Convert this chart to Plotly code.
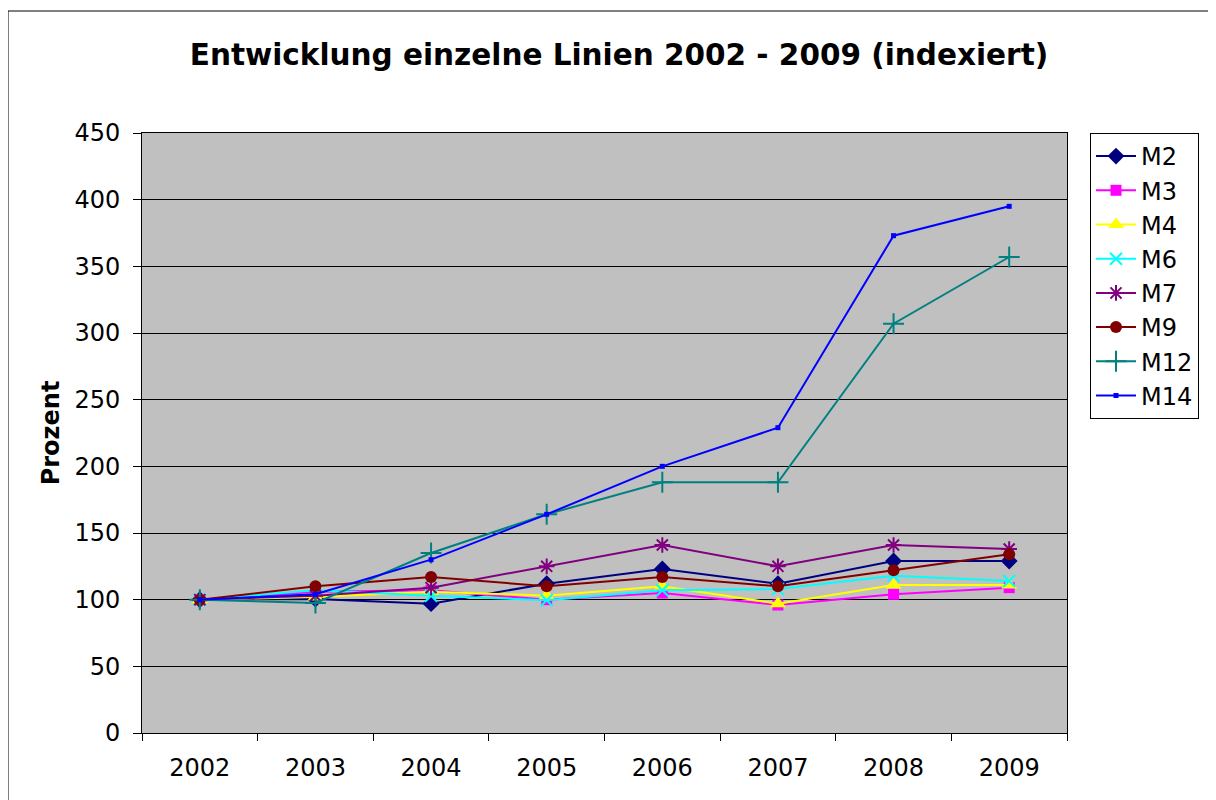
import plotly.graph_objects as go

years = ["2002", "2003", "2004", "2005", "2006", "2007", "2008", "2009"]
M2 = [100, 100.5, 97, 112, 123, 112, 129, 129]
M3 = [100, 106, 107, 100, 105, 96, 104, 109]
M4 = [100, 102, 106, 103, 110, 97, 111, 111]
M6 = [100, 107, 103, 99.5, 107, 108, 118, 114]
M7 = [100, 103, 109, 125, 141, 125, 141, 138]
M9 = [100, 110, 117, 110, 117, 110, 122, 134]
M12 = [100, 97.5, 135, 164, 188, 188, 307, 357]
M14 = [100, 104, 130, 164, 200, 229, 373, 395]

series = [
    ("M2", M2, "#000080", "diamond", 13, 0),
    ("M3", M3, "#FF00FF", "square", 11, 0),
    ("M4", M4, "#FFFF00", "triangle-up", 14, 0),
    ("M6", M6, "#00FFFF", "x-thin-open", 12, 2),
    ("M7", M7, "#800080", "asterisk-open", 13, 2),
    ("M9", M9, "#800000", "circle", 12, 0),
    ("M12", M12, "#008080", "cross-thin-open", 15, 2),
    ("M14", M14, "#0000FF", "square", 5, 0),
]

fig = go.Figure()
for name, vals, col, sym, size, lw in series:
    marker = dict(symbol=sym, size=size, color=col)
    if lw:
        marker["line"] = dict(color=col, width=lw)
    else:
        marker["line"] = dict(width=0)
    fig.add_trace(go.Scatter(x=years, y=vals, name=name, mode="lines+markers",
                             line=dict(color=col, width=2), marker=marker))

# page body has an 8px margin; compensate
OFF = 8
L, T = 142 - OFF, 133 - OFF
W, H = 925, 600
FW, FH = 1216 - OFF, 800 - OFF
fig.update_layout(
    width=FW, height=FH,
    margin=dict(l=L, r=FW - L - W, t=T, b=FH - T - H),
    paper_bgcolor="white", plot_bgcolor="#C0C0C0",
    font=dict(family="DejaVu Sans", size=24, color="black"),
    title=dict(text="<b>Entwicklung einzelne Linien 2002 - 2009 (indexiert)</b>",
               x=(619 - OFF) / FW, xanchor="center", y=1 - (55 - OFF) / FH, yanchor="middle",
               font=dict(size=29.5, family="DejaVu Sans")),
    showlegend=True,
    legend=dict(x=(1090 - 142) / W, y=1.0, xanchor="left", yanchor="top",
                bgcolor="white", bordercolor="black", borderwidth=1,
                font=dict(size=24), tracegroupgap=0, itemwidth=40),
    xaxis=dict(type="category", tickson="boundaries", ticks="outside", ticklen=7,
               tickcolor="black", showgrid=False, showline=True, linecolor="black",
               linewidth=1, mirror=True, range=[-0.5, 7.5], tickfont=dict(size=24),
               ticklabelstandoff=13),
    yaxis=dict(range=[0, 450], dtick=50, ticks="outside", ticklen=8, tickcolor="black",
               showgrid=True, gridcolor="black", gridwidth=1, showline=True,
               linecolor="black", linewidth=1, mirror=True, zeroline=False,
               tickfont=dict(size=24), ticklabelstandoff=8,
               title=dict(text="<b>Prozent</b>", font=dict(size=24), standoff=7)),
)

fig.add_shape(type="rect", xref="paper", yref="paper",
              x0=(8 - 142) / W, x1=(1230 - 142) / W, y0=-0.3, y1=(733 - 11) / H,
              line=dict(color="black", width=1), fillcolor="rgba(0,0,0,0)", layer="below")

fig.write_html("out.html")
